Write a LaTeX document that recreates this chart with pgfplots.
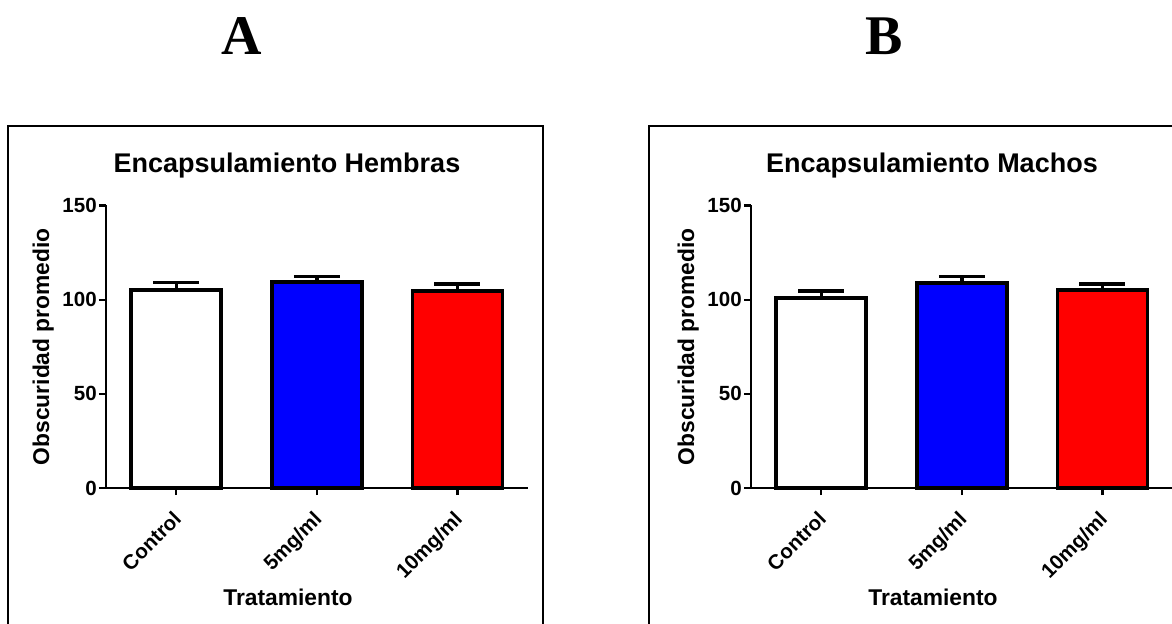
\documentclass[border=0pt]{standalone}
\usepackage{fontspec}
\setmainfont{Liberation Sans}
\newfontfamily\tnr{Liberation Serif}
\usepackage{pgfplots}
\pgfplotsset{compat=1.18}
\definecolor{gblue}{RGB}{0,0,255}
\definecolor{gred}{RGB}{255,0,0}
\newcommand\tickfont{\fontsize{15.4pt}{18pt}\selectfont\bfseries}
\pgfplotsset{
  gp/.style={
    scale only axis, width=316.3pt, height=211.9pt, anchor=south west,
    xmin=-0.5, xmax=2.5, ymin=0, ymax=150,
    axis x line=bottom, axis y line=left,
    axis line style={-, line width=1.9pt},
    xtick={0,1,2}, xticklabels={Control,5mg/ml,10mg/ml},
    ytick={0,50,100,150},
    tick align=outside, major tick length=5.25pt,
    tick style={black, line width=1.6pt},
    /pgf/number format/assume math mode=true,
    yticklabel style={font=\tickfont, inner sep=1.5pt},
    xticklabel style={font=\tickfont, rotate=45, anchor=north east, xshift=-6.75pt, yshift=-2pt},
    clip=false,
    bar width=0.64,
  },
  gpbar/.style={
    ybar, bar shift=0pt, draw=black, line width=2.8pt,
    error bars/y dir=plus, error bars/y explicit,
    error bars/error bar style={line width=2.6pt, black},
    error bars/error mark options={rotate=90, mark size=17.25pt, line width=2.6pt, black},
  },
}
\begin{document}
\begin{tikzpicture}[x=0.75pt,y=0.75pt]
\useasboundingbox (0,0) rectangle (1172,-624);
\clip (0,0) rectangle (1172,-624);
\draw[line width=1.5pt] (7.5,-126) rectangle (542.7,-700);
\draw[line width=1.5pt] (649,-126.5) rectangle (1250,-700);
\node[font=\tnr\bfseries\fontsize{42pt}{48pt}\selectfont, anchor=base] at (242,-55) {A};
\node[font=\tnr\bfseries\fontsize{42pt}{48pt}\selectfont, anchor=base] at (884,-55) {B};
% titles and labels
\node[font=\bfseries\fontsize{20.25pt}{24pt}\selectfont, anchor=base] at (287,-173) {Encapsulamiento Hembras};
\node[font=\bfseries\fontsize{20.25pt}{24pt}\selectfont, anchor=base] at (932,-173) {Encapsulamiento Machos};
\node[font=\bfseries\fontsize{17.1pt}{20pt}\selectfont, anchor=base] at (288,-605) {Tratamiento};
\node[font=\bfseries\fontsize{17.1pt}{20pt}\selectfont, anchor=base] at (933,-605) {Tratamiento};
\node[font=\bfseries\fontsize{17.1pt}{20pt}\selectfont, anchor=base, rotate=90] at (49,-346.7) {Obscuridad promedio};
\node[font=\bfseries\fontsize{17.1pt}{20pt}\selectfont, anchor=base, rotate=90] at (694,-346.7) {Obscuridad promedio};
\begin{axis}[gp, at={(79.5pt,-366pt)}]
\addplot[gpbar, fill=white] coordinates {(0,105.2) +- (0,3.9)};
\addplot[gpbar, fill=gblue] coordinates {(1,109.3) +- (0,3.1)};
\addplot[gpbar, fill=gred] coordinates {(2,104.7) +- (0,3.7)};
\end{axis}
\begin{axis}[gp, at={(563.25pt,-366pt)}]
\addplot[gpbar, fill=white] coordinates {(0,100.8) +- (0,3.7)};
\addplot[gpbar, fill=gblue] coordinates {(1,108.7) +- (0,3.7)};
\addplot[gpbar, fill=gred] coordinates {(2,105.0) +- (0,3.4)};
\end{axis}
\end{tikzpicture}
\end{document}
